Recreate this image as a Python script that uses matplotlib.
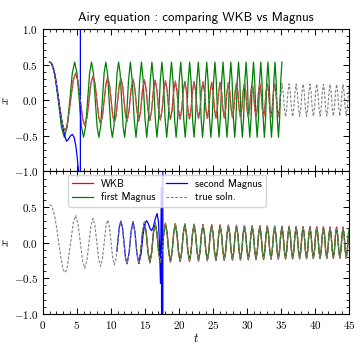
import numpy as np
import matplotlib.pyplot as plt
from matplotlib.ticker import MultipleLocator, FuncFormatter

plt.rcParams['mathtext.fontset'] = 'cm'
plt.rcParams['font.family'] = ['cmss10', 'DejaVu Sans']
plt.rcParams['axes.unicode_minus'] = False

# true solution (grey dashed)
true_early_t = [1.0, 1.25, 1.5, 1.771, 2.0, 2.338, 2.5, 2.811, 3.0, 3.248, 3.5, 3.683,
                4.088, 4.462, 4.820, 5.178, 5.521, 5.847, 6.163, 6.479, 6.787, 7.083,
                7.372, 7.661, 7.944, 8.219, 8.489, 8.758, 9.023, 9.281, 9.535, 9.790,
                10.040, 10.286, 10.528, 10.769, 11.009, 11.243, 11.475, 11.707, 11.936,
                12.161, 12.385]
true_early_x = [0.5356, 0.521, 0.4642, 0.357, 0.2274, 0.0, -0.1123, -0.300, -0.3788,
                -0.4190, -0.383, -0.288, 0.0, 0.2745, 0.3804, 0.2645, 0.0, -0.2565,
                -0.3579, -0.250, 0.0, 0.2445, 0.3417, 0.2398, 0.0, -0.2356, -0.3289,
                -0.2319, 0.0, 0.2286, 0.3186, 0.2255, 0.0, -0.2228, -0.3100, -0.2202,
                0.0, 0.2179, 0.3026, 0.2157, 0.0, -0.2136, -0.2962]
true_late_t = [
    12.678, 12.970, 13.263, 13.546, 13.829, 14.112, 14.387, 14.662, 14.937,
    15.204, 15.472, 15.739, 16.000, 16.260, 16.521, 16.776, 17.030, 17.285,
    17.534, 17.784, 18.033, 18.277, 18.521, 18.765, 19.005, 19.244, 19.484,
    19.719, 19.954, 20.189, 20.420, 20.651, 20.882, 21.110, 21.337, 21.565,
    21.789, 22.012, 22.236, 22.456, 22.677, 22.897, 23.114, 23.332, 23.549,
    23.763, 23.978, 24.192, 24.404, 24.615, 24.827, 25.036, 25.244, 25.453,
    25.659, 25.866, 26.072, 26.276, 26.480, 26.684, 26.886, 27.087, 27.289,
    27.488, 27.688, 27.887, 28.084, 28.281, 28.478, 28.673, 28.869, 29.064,
    29.257, 29.451, 29.644, 29.835, 30.027, 30.218, 30.408, 30.597, 30.787,
    30.975, 31.163, 31.351, 31.537, 31.724, 31.910, 32.094, 32.279, 32.463,
    32.646, 32.829, 33.012, 33.194, 33.375, 33.557, 33.737, 33.917, 34.097,
    34.276, 34.454, 34.633, 34.810, 34.988, 35.165, 35.341, 35.517, 35.693,
    35.867, 36.042, 36.216, 36.389, 36.563, 36.736, 36.908, 37.081, 37.253,
    37.424, 37.595, 37.766, 37.936, 38.105, 38.275, 38.444, 38.613, 38.782,
    38.949, 39.117, 39.284, 39.451, 39.617, 39.784, 39.950, 40.115, 40.281,
    40.445, 40.610, 40.774, 40.937, 41.101, 41.264, 41.427, 41.589, 41.752,
    41.914, 42.075, 42.237, 42.398, 42.558, 42.719, 42.879, 43.038, 43.198,
    43.357, 43.516, 43.675, 43.833, 43.991, 44.149, 44.306, 44.464, 44.621,
    44.777, 44.932, 45.0]
true_late_x = [
    -0.148, 0.148, 0.2956, 0.148, -0.1456, -0.2911, -0.1456, 0.1435, 0.2870,
    0.1435, -0.1417, -0.2833, -0.1417, 0.140, 0.2799, 0.140, -0.1384, -0.2767,
    -0.1384, 0.1369, 0.2738, 0.1369, -0.1356, -0.2711, -0.1356, 0.1343, 0.2685,
    0.1343, -0.1331, -0.2662, -0.1331, 0.132, 0.2639, 0.132, -0.1309, -0.2618,
    -0.1309, 0.1299, 0.2598, 0.1299, -0.129, -0.2579, -0.129, 0.128, 0.2561,
    0.128, -0.1272, -0.2544, -0.1272, 0.1264, 0.2528, 0.1264, -0.1256, -0.2512,
    -0.1256, 0.1249, 0.2497, 0.1249, -0.1241, -0.2482, -0.1241, 0.1235, 0.2469,
    0.1235, -0.1228, -0.2455, -0.1228, 0.1221, 0.2442, 0.1221, -0.1215, -0.2430,
    -0.1215, 0.1209, 0.2418, 0.1209, -0.1203, -0.2406, -0.1203, 0.1198, 0.2395,
    0.1198, -0.1192, -0.2384, -0.1192, 0.1187, 0.2374, 0.1187, -0.1182, -0.2364,
    -0.1182, 0.1177, 0.2354, 0.1177, -0.1172, -0.2344, -0.1172, 0.1168, 0.2335,
    0.1168, -0.1163, -0.2326, -0.1163, 0.1159, 0.2317, 0.1159, -0.1154, -0.2308,
    -0.1154, 0.115, 0.2300, 0.115, -0.1146, -0.2292, -0.1146, 0.1142, 0.2284,
    0.1142, -0.1138, -0.2276, -0.1138, 0.1134, 0.2268, 0.1134, -0.1131, -0.2261,
    -0.1131, 0.1127, 0.2254, 0.1127, -0.1123, -0.2246, -0.1123, 0.112, 0.2239,
    0.112, -0.1117, -0.2233, -0.1117, 0.1113, 0.2226, 0.1113, -0.111, -0.2219,
    -0.111, 0.1107, 0.2213, 0.1107, -0.1104, -0.2207, -0.1104, 0.1101, 0.2201,
    0.1101, -0.1098, -0.2195, -0.1098, 0.1095, 0.2189, 0.1095, -0.1092, -0.2183,
    -0.109, 0.109, 0.180]

# top panel: first Magnus (green), constant amplitude, slightly faster
magnus1_top_t = [
    1.0, 1.25, 1.5, 1.719, 2.270, 2.729, 3.153, 3.575, 3.969, 4.332, 4.679,
    5.027, 5.360, 5.676, 5.983, 6.290, 6.589, 6.876, 7.157, 7.437, 7.712,
    7.979, 8.241, 8.502, 8.760, 9.010, 9.257, 9.504, 9.747, 9.986, 10.221,
    10.455, 10.688, 10.915, 11.140, 11.365, 11.588, 11.806, 12.023,
    12.307, 12.592, 12.876, 13.151, 13.425, 13.700, 13.967, 14.234, 14.501,
    14.760, 15.020, 15.279, 15.532, 15.786, 16.039, 16.286, 16.533, 16.780,
    17.022, 17.264, 17.506, 17.743, 17.980, 18.217, 18.450, 18.682, 18.915,
    19.143, 19.371, 19.599, 19.823, 20.048, 20.272, 20.493, 20.714, 20.935,
    21.152, 21.370, 21.587, 21.801, 22.014, 22.228, 22.439, 22.650, 22.861,
    23.069, 23.278, 23.486, 23.691, 23.897, 24.102, 24.305, 24.507, 24.710,
    24.910, 25.111, 25.311, 25.509, 25.707, 25.905, 26.101, 26.296, 26.492,
    26.686, 26.879, 27.073, 27.264, 27.455, 27.646, 27.836, 28.025, 28.215,
    28.403, 28.590, 28.778, 28.964, 29.150, 29.336, 29.520, 29.704, 29.888,
    30.071, 30.253, 30.436, 30.617, 30.797, 30.978, 31.157, 31.336, 31.515,
    31.693, 31.870, 32.048, 32.224, 32.401, 32.577, 32.752, 32.926, 33.101,
    33.275, 33.449, 33.622, 33.794, 33.966, 34.138, 34.309, 34.480, 34.651,
    34.820, 34.989, 35.158]
magnus1_top_x = [
    0.535, 0.52, 0.465, 0.375, 0.0, -0.375, -0.52, -0.375, 0.0, 0.38, 0.535,
    0.38, 0.0, -0.37, -0.52, -0.37, 0.0, 0.38, 0.535, 0.38, 0.0,
    -0.37, -0.52, -0.37, 0.0, 0.38, 0.535, 0.38, 0.0, -0.37, -0.52,
    -0.37, 0.0, 0.38, 0.535, 0.38, 0.0, -0.37, -0.52,
    -0.26, 0.2675, 0.535, 0.2675, -0.26, -0.52, -0.26, 0.2675, 0.535,
    0.2675, -0.26, -0.52, -0.26, 0.2675, 0.535, 0.2675, -0.26, -0.52,
    -0.26, 0.2675, 0.535, 0.2675, -0.26, -0.52, -0.26, 0.2675, 0.535,
    0.2675, -0.26, -0.52, -0.26, 0.2675, 0.535, 0.2675, -0.26, -0.52,
    -0.26, 0.2675, 0.535, 0.2675, -0.26, -0.52, -0.26, 0.2675, 0.535,
    0.2675, -0.26, -0.52, -0.26, 0.2675, 0.535, 0.2675, -0.26, -0.52,
    -0.26, 0.2675, 0.535, 0.2675, -0.26, -0.52, -0.26, 0.2675, 0.535,
    0.2675, -0.26, -0.52, -0.26, 0.2675, 0.535, 0.2675, -0.26, -0.52,
    -0.26, 0.2675, 0.535, 0.2675, -0.26, -0.52, -0.26, 0.2675, 0.535,
    0.2675, -0.26, -0.52, -0.26, 0.2675, 0.535, 0.2675, -0.26, -0.52,
    -0.26, 0.2675, 0.535, 0.2675, -0.26, -0.52, -0.26, 0.2675, 0.535,
    0.2675, -0.26, -0.52, -0.26, 0.2675, 0.535, 0.2675, -0.26, -0.52,
    -0.26, 0.2675, 0.535]

# top panel: second Magnus (blue), blows up near t = 5.5
magnus2_top_t = [1.0, 1.25, 1.5, 1.771, 2.0, 2.338, 2.5, 2.75, 3.0, 3.25, 3.48, 3.75,
                 4.05, 4.35, 4.6, 4.85, 5.05, 5.3, 5.5, 5.55]
magnus2_top_x = [0.5356, 0.521, 0.4642, 0.357, 0.2274, 0.0, -0.115, -0.27, -0.40, -0.51,
                 -0.575, -0.55, -0.50, -0.48, -0.52, -0.64, -0.80, -1.05, -60.0, 80.0]

# bottom panel: second Magnus (blue) on 11 < t < 17.7
magnus2_bot_t = [10.9, 11.009, 11.243, 11.475, 11.707, 11.936, 12.161, 12.385, 12.678,
                 12.970, 13.263, 13.546, 13.829, 14.112, 14.45, 14.75, 15.0, 15.25,
                 15.5, 15.75, 16.0, 16.25, 16.55, 16.8, 17.0, 17.15, 17.3, 17.45,
                 17.62, 17.70]
magnus2_bot_x = [-0.12, 0.0, 0.2179, 0.3026, 0.2157, 0.0, -0.2136, -0.2962, -0.148,
                 0.148, 0.2956, 0.148, -0.1456, -0.2911, -0.15, 0.12, 0.27, 0.31,
                 0.27, 0.20, 0.17, 0.22, 0.34, 0.41, 0.30, 0.0, -0.57, 0.77,
                 -30.0, 60.0]

# bottom panel: first Magnus (green) from t = 14.1 on, a touch smaller than WKB
magnus1_bot_x = [
    -0.281,
    -0.1405, 0.1385, 0.277, 0.1385, -0.1365, -0.273, -0.1365, 0.135, 0.270,
    0.135, -0.1335, -0.267, -0.1335, 0.132, 0.264, 0.132, -0.1305, -0.261,
    -0.1305, 0.1295, 0.259, 0.1295, -0.128, -0.256, -0.128, 0.127, 0.254,
    0.127, -0.126, -0.252, -0.126, 0.125, 0.250, 0.125, -0.124, -0.248,
    -0.124, 0.123, 0.246, 0.123, -0.122, -0.244, -0.122, 0.1215, 0.243,
    0.1215, -0.1205, -0.241, -0.1205, 0.12, 0.240, 0.12, -0.119, -0.238,
    -0.119, 0.1185, 0.237, 0.1185, -0.118, -0.236, -0.118, 0.117, 0.234,
    0.117, -0.1165, -0.233, -0.1165, 0.116, 0.232, 0.116, -0.1155, -0.231,
    -0.1155, 0.115, 0.230, 0.115, -0.114, -0.228, -0.114, 0.1135, 0.227,
    0.1135, -0.113, -0.226, -0.113, 0.1125, 0.225, 0.1125, -0.112, -0.224,
    -0.112, 0.112, 0.224, 0.112, -0.1115, -0.223, -0.1115, 0.111, 0.222,
    0.111, -0.1105, -0.221, -0.1105, 0.11, 0.220, 0.11, -0.1095, -0.219,
    -0.1095, 0.109, 0.218, 0.109, -0.109, -0.218, -0.109, 0.1085, 0.217,
    0.1085, -0.108, -0.216, -0.108, 0.1075, 0.215, 0.1075, -0.1075, -0.215,
    -0.1075, 0.107, 0.214, 0.107, -0.1065, -0.213, -0.1065, 0.1065, 0.213,
    0.1065, -0.106, -0.212, -0.106, 0.1055, 0.211, 0.1055, -0.1055, -0.211,
    -0.1055, 0.105, 0.210, 0.105, -0.105, -0.210, -0.105, 0.1045, 0.209,
    0.1045, -0.104, -0.208,
    -0.104, 0.104, 0.172]

true_t = np.array(true_early_t + true_late_t)
true_x = np.array(true_early_x + true_late_x)

# WKB lies on the true solution
n = np.searchsorted(true_t, 35.0)
wkb_top_t = np.r_[true_t[:n], 35.0]
wkb_top_x = np.r_[true_x[:n], 0.13]
i0 = true_late_t.index(14.112)
wkb_bot_t = true_late_t[i0:]
wkb_bot_x = true_late_x[i0:]
magnus1_bot_t = true_late_t[i0:]

fig, (ax1, ax2) = plt.subplots(2, 1, sharex=True, figsize=(3.6, 3.45), dpi=100)
plt.subplots_adjust(left=0.119, right=0.969, top=0.916, bottom=0.090, hspace=0)

lw = 0.9
dash = (0, (2.5, 1.5))

ax1.plot(wkb_top_t, wkb_top_x, color='red', lw=lw)
ax1.plot(magnus1_top_t, magnus1_top_x, color='green', lw=lw)
ax1.plot(magnus2_top_t, magnus2_top_x, color='blue', lw=lw)
ax1.plot(true_t, true_x, color='gray', lw=0.8, ls=dash)

ax2.plot(wkb_bot_t, wkb_bot_x, color='red', lw=lw, label='WKB')
ax2.plot(magnus1_bot_t, magnus1_bot_x, color='green', lw=lw, label='first Magnus')
ax2.plot(magnus2_bot_t, magnus2_bot_x, color='blue', lw=lw, label='second Magnus')
ax2.plot(true_t, true_x, color='gray', lw=0.8, ls=dash, label='true soln.')


def yfmt_top(v, p):
    return r'$%.1f$' % v


def yfmt_bot(v, p):
    # the 1.0 label would sit on top of the upper panel's -1.0
    return '' if v > 0.99 else r'$%.1f$' % v


for ax, yf in ((ax1, yfmt_top), (ax2, yfmt_bot)):
    ax.set_xlim(0, 45)
    ax.set_ylim(-1, 1)
    ax.xaxis.set_major_locator(MultipleLocator(5))
    ax.xaxis.set_minor_locator(MultipleLocator(1))
    ax.yaxis.set_major_locator(MultipleLocator(0.5))
    ax.yaxis.set_minor_locator(MultipleLocator(0.1))
    ax.yaxis.set_major_formatter(FuncFormatter(yf))
    ax.xaxis.set_major_formatter(FuncFormatter(lambda v, p: r'$%d$' % round(v)))
    ax.tick_params(which='both', direction='in', top=True, right=True, labelsize=8)
    ax.tick_params(which='major', length=4, width=0.7)
    ax.tick_params(which='minor', length=2, width=0.6)
    ax.set_ylabel('$x$', fontsize=9)
    ax.yaxis.set_label_coords(-0.10, 0.5)
    for s in ax.spines.values():
        s.set_linewidth(0.8)

ax2.set_xlabel('$t$', fontsize=9, labelpad=1)
ax1.set_title('Airy equation : comparing WKB vs Magnus', fontsize=9.3)
ax2.legend(ncol=2, loc='upper left', bbox_to_anchor=(0.072, 1.0), fontsize=7.5,
           handlelength=2.0, borderaxespad=0.3, columnspacing=1.0, labelspacing=0.35)

plt.savefig('out.png', dpi=100)
